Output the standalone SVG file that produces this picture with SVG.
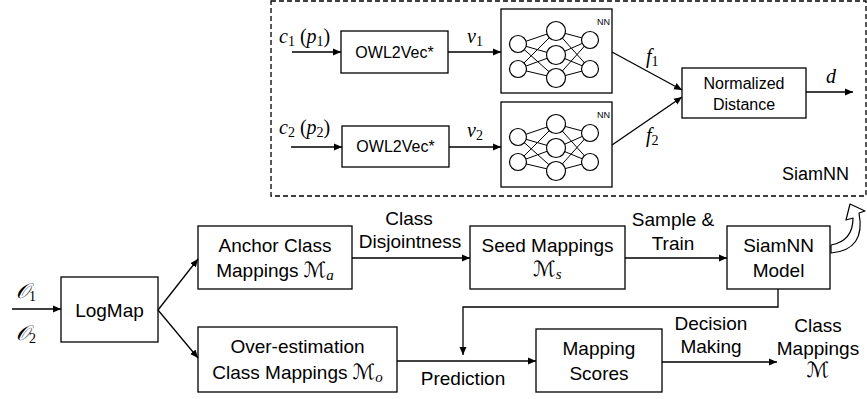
<svg xmlns="http://www.w3.org/2000/svg" xmlns:xlink="http://www.w3.org/1999/xlink" width="867" height="399" viewBox="0 0 867 399">
<style>
.box{fill:#fff;stroke:#000;stroke-width:1.3}
.ln{fill:none;stroke:#000;stroke-width:1.3}
.arr{marker-end:url(#ah)}
.nl{stroke:#000;stroke-width:1}
.nc{fill:#fff;stroke:#000;stroke-width:1.2}
.t16{font-family:"Liberation Sans",Arial,sans-serif;font-size:16px;fill:#000}
.t19{font-family:"Liberation Sans",Arial,sans-serif;font-size:19px;fill:#000}
.mi{font-family:"Liberation Serif","Times New Roman",serif;font-style:italic;font-size:20px;fill:#000}
.up{font-style:normal}
.sb{font-size:14px}
.sc{font-family:"DejaVu Serif","DejaVu Sans",serif;font-style:italic;font-size:21px}
.ms{font-family:"Liberation Serif",serif;font-style:italic;font-size:15px}
</style>
<defs>
<marker id="ah" markerUnits="userSpaceOnUse" markerWidth="9" markerHeight="8" refX="8" refY="4" orient="auto">
<path d="M0,0.5 L8,4 L0,7.5 Z" fill="#000"/>
</marker>
<g id="net">
<g class="nl">
<path d="M17 35L55 22M17 35L55 46M17 35L55 69M17 60L55 22M17 60L55 46M17 60L55 69M55 22L89 31M55 22L89 60M55 46L89 31M55 46L89 60M55 69L89 31M55 69L89 60"/>
</g>
<circle class="nc" cx="17" cy="35" r="8.5"/>
<circle class="nc" cx="17" cy="60" r="8.5"/>
<circle class="nc" cx="55" cy="22" r="9.5"/>
<circle class="nc" cx="55" cy="46" r="9.5"/>
<circle class="nc" cx="55" cy="69" r="9.5"/>
<circle class="nc" cx="89" cy="31" r="8.5"/>
<circle class="nc" cx="89" cy="60" r="8.5"/>
</g>
</defs>
<rect width="867" height="399" fill="#fff"/>

<g id="siamnn-frame">
<rect x="271" y="1" width="595" height="195" fill="none" stroke="#000" stroke-width="1.3" stroke-dasharray="5 3"/>
<text class="t19" x="782" y="180" style="font-size:18px">SiamNN</text>
</g>

<g id="owl1">
<rect class="box" x="341" y="31" width="107" height="42"/>
<text class="t16" x="394.5" y="58" text-anchor="middle">OWL2Vec*</text>
</g>
<g id="owl2">
<rect class="box" x="342" y="126" width="107" height="41"/>
<text class="t16" x="395.5" y="152" text-anchor="middle">OWL2Vec*</text>
</g>
<g id="nn1">
<rect class="box" x="501" y="9" width="111" height="84"/>
<use xlink:href="#net" x="501" y="9"/>
<text class="t16" x="597" y="25" style="font-size:9px">NN</text>
</g>
<g id="nn2">
<rect class="box" x="501" y="102" width="111" height="85"/>
<use xlink:href="#net" x="501" y="102"/>
<text class="t16" x="597" y="118" style="font-size:9px">NN</text>
</g>
<g id="normdist">
<rect class="box" x="682" y="68" width="124" height="50"/>
<text class="t16" x="744" y="89" text-anchor="middle">Normalized</text>
<text class="t16" x="744" y="110" text-anchor="middle">Distance</text>
</g>

<g id="logmap">
<rect class="box" x="61" y="277" width="97" height="65"/>
<text class="t19" x="109.5" y="317" text-anchor="middle">LogMap</text>
</g>
<g id="anchor">
<rect class="box" x="198" y="226" width="154" height="63"/>
<text class="t19" x="275" y="252" text-anchor="middle">Anchor Class</text>
<text class="t19" x="275" y="277" text-anchor="middle">Mappings <tspan class="sc">ℳ</tspan><tspan class="ms" dy="3">a</tspan></text>
</g>
<g id="overest">
<rect class="box" x="198" y="327" width="199" height="65"/>
<text class="t19" x="297.5" y="353" text-anchor="middle">Over-estimation</text>
<text class="t19" x="297.5" y="379" text-anchor="middle">Class Mappings <tspan class="sc">ℳ</tspan><tspan class="ms" dy="3">o</tspan></text>
</g>
<g id="seed">
<rect class="box" x="470" y="226" width="155" height="63"/>
<text class="t19" x="547.5" y="252" text-anchor="middle">Seed Mappings</text>
<text class="t19" x="547.5" y="276" text-anchor="middle"><tspan class="sc">ℳ</tspan><tspan class="ms" dy="3">s</tspan></text>
</g>
<g id="siammodel">
<rect class="box" x="727" y="226" width="103" height="63"/>
<text class="t19" x="778.5" y="252" text-anchor="middle">SiamNN</text>
<text class="t19" x="778.5" y="277" text-anchor="middle">Model</text>
</g>
<g id="scores">
<rect class="box" x="536" y="329" width="126" height="63"/>
<text class="t19" x="599" y="355" text-anchor="middle">Mapping</text>
<text class="t19" x="599" y="380" text-anchor="middle">Scores</text>
</g>
<g id="output">
<text class="t19" x="818" y="332" text-anchor="middle">Class</text>
<text class="t19" x="818" y="355" text-anchor="middle">Mappings</text>
<text class="t19" x="818" y="377" text-anchor="middle"><tspan class="sc">ℳ</tspan></text>
</g>

<g id="connectors">
<path class="ln arr" d="M292 52L341 52"/>
<path class="ln arr" d="M448 52L501 52"/>
<path class="ln arr" d="M291 147L342 147"/>
<path class="ln arr" d="M449 147L501 147"/>
<path class="ln arr" d="M612 52L682 90"/>
<path class="ln arr" d="M612 145L682 97"/>
<path class="ln arr" d="M806 92L853 92"/>
<path class="ln arr" d="M12 309L61 309"/>
<path class="ln arr" d="M158 310L198 259"/>
<path class="ln arr" d="M158 310L198 358"/>
<path class="ln arr" d="M352 258L470 258"/>
<path class="ln arr" d="M625 258L727 258"/>
<path class="ln arr" d="M778 289L778 307L463 307L463 355"/>
<path class="ln arr" d="M397 361L536 361"/>
<path class="ln arr" d="M662 362L777 362"/>
<path d="M831 245Q853 241 853 218L846 220L850 204L865 211L859 213Q866 250 831 253Z" fill="#fff" stroke="#000" stroke-width="1.2" stroke-linejoin="round"/>
</g>

<g id="labels">
<text class="mi" x="279" y="43">c<tspan class="up sb" dy="3">1</tspan><tspan class="up" dy="-3"> (</tspan>p<tspan class="up sb" dy="3">1</tspan><tspan class="up" dy="-3">)</tspan></text>
<text class="mi" x="279" y="134">c<tspan class="up sb" dy="3">2</tspan><tspan class="up" dy="-3"> (</tspan>p<tspan class="up sb" dy="3">2</tspan><tspan class="up" dy="-3">)</tspan></text>
<text class="mi" x="467" y="43">v<tspan class="up sb" dy="3">1</tspan></text>
<text class="mi" x="467" y="137">v<tspan class="up sb" dy="3">2</tspan></text>
<text class="mi" x="646" y="63">f<tspan class="up sb" dy="3">1</tspan></text>
<text class="mi" x="646" y="142">f<tspan class="up sb" dy="3">2</tspan></text>
<text class="mi" x="826" y="83">d</text>
<text class="mi" x="16" y="298"><tspan class="sc up">𝒪</tspan><tspan class="up sb" dy="3">1</tspan></text>
<text class="mi" x="16" y="340"><tspan class="sc up">𝒪</tspan><tspan class="up sb" dy="3">2</tspan></text>
<text class="t19" x="409" y="225" text-anchor="middle">Class</text>
<text class="t19" x="410" y="248" text-anchor="middle">Disjointness</text>
<text class="t19" x="673" y="226" text-anchor="middle">Sample &amp;</text>
<text class="t19" x="673" y="250" text-anchor="middle">Train</text>
<text class="t19" x="463" y="385" text-anchor="middle">Prediction</text>
<text class="t19" x="711" y="330" text-anchor="middle">Decision</text>
<text class="t19" x="711" y="353" text-anchor="middle">Making</text>
</g>
</svg>
